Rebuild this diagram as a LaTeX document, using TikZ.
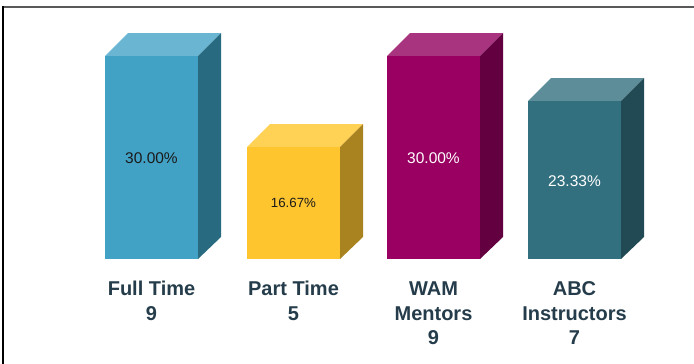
\documentclass[tikz,border=0pt]{standalone}
\usepackage{fontspec}
\setmainfont{Liberation Sans}
\definecolor{ftF}{HTML}{42A2C6}
\definecolor{ftT}{HTML}{6AB5D2}
\definecolor{ftS}{HTML}{286A80}
\definecolor{ptF}{HTML}{FFC52F}
\definecolor{ptT}{HTML}{FFD155}
\definecolor{ptS}{HTML}{A8831F}
\definecolor{wmF}{HTML}{990061}
\definecolor{wmT}{HTML}{A8337F}
\definecolor{wmS}{HTML}{620040}
\definecolor{abF}{HTML}{33707F}
\definecolor{abT}{HTML}{5C8D98}
\definecolor{abS}{HTML}{224A55}
\definecolor{labc}{HTML}{253C4A}
\definecolor{pctdark}{HTML}{1A1A1A}
\newcommand\mybar[5]{%
  \fill[#4] (#1,#2) -- ++(23,-23) -- ++(93,0) -- ++(-23,23) -- cycle;
  \fill[#3] (#1,#2) rectangle (#1+93,259);
  \fill[#5] (#1+93,#2) -- ++(23,-23) -- (#1+116,237) -- (#1+93,259) -- cycle;
}
\tikzset{
  lab/.style={font=\fontsize{20}{24.5}\selectfont\bfseries, text=labc, align=center, inner sep=0pt},
  pct/.style={font=\fontsize{15.5}{18}\selectfont, inner sep=0pt},
  pcts/.style={font=\fontsize{13.3}{16}\selectfont, inner sep=0pt}
}
\begin{document}
\begin{tikzpicture}[x=1pt,y=-1pt]
\useasboundingbox (0,0) rectangle (694,364);
\draw[line width=2pt, color=black!65] (3,6.5) -- (694,6.5);
\draw[line width=1.5pt] (3,6) -- (3,364);
\mybar{105}{56}{ftF}{ftT}{ftS}
\mybar{247}{147}{ptF}{ptT}{ptS}
\mybar{387}{56}{wmF}{wmT}{wmS}
\mybar{528}{101}{abF}{abT}{abS}
\node[pct, text=pctdark] (p1) at (151.5,158) {30.00\%};
\node[pcts, text=pctdark] (p2) at (293.5,203) {16.67\%};
\node[pct, text=white] (p3) at (433.5,158) {30.00\%};
\node[pct, text=white] (p4) at (574.5,181) {23.33\%};
\node[lab] (l1) at (151.5,301) {Full Time\\9};
\node[lab] (l2) at (293.5,301) {Part Time\\5};
\node[lab] (l3) at (433.5,313.5) {WAM\\Mentors\\9};
\node[lab] (l4) at (574.5,313.5) {ABC\\Instructors\\7};
\end{tikzpicture}
\end{document}
